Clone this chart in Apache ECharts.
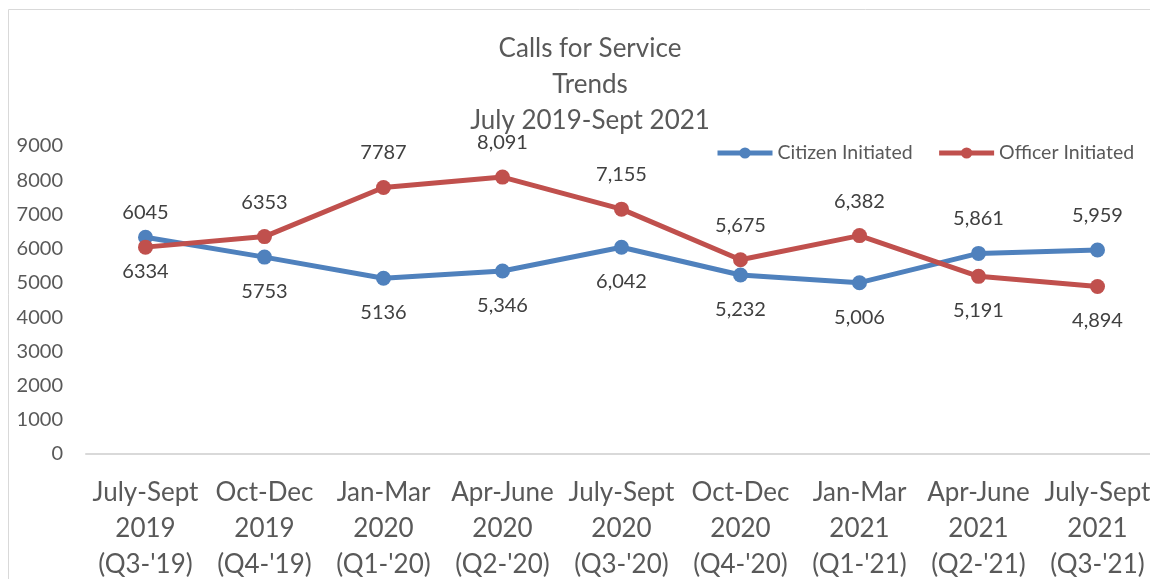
<!DOCTYPE html>
<html>
<head>
<meta charset="utf-8">
<script src="https://cdn.jsdelivr.net/npm/echarts@6/dist/echarts.min.js"></script>
<style>
  html, body { margin: 0; padding: 0; background: #fff; }
  #chart { width: 1150px; height: 579px; }
</style>
</head>
<body>
<div id="chart"></div>
<script>
const quarters = [
  "July-Sept\n2019\n(Q3-'19)", "Oct-Dec\n2019\n(Q4-'19)", "Jan-Mar\n2020\n(Q1-'20)",
  "Apr-June\n2020\n(Q2-'20)", "July-Sept\n2020\n(Q3-'20)", "Oct-Dec\n2020\n(Q4-'20)",
  "Jan-Mar\n2021\n(Q1-'21)", "Apr-June\n2021\n(Q2-'21)", "July-Sept\n2021\n(Q3-'21)"
];
const citizen = [6334, 5753, 5136, 5346, 6042, 5232, 5006, 5861, 5959];
const officer = [6045, 6353, 7787, 8091, 7155, 5675, 6382, 5191, 4894];
// label placement as in the original (Excel put some above, some below)
const citizenLabelPos = ['bottom', 'bottom', 'bottom', 'bottom', 'bottom', 'bottom', 'bottom', 'top', 'top'];
const officerLabelPos = ['top', 'top', 'top', 'top', 'top', 'top', 'top', 'bottom', 'bottom'];
// first three quarters were labelled without thousands separator
const withComma = [false, false, false, true, true, true, true, true, true];

const FONT = 'Lato';
const GREY = '#595959';

const fmt = (v, i) => withComma[i] ? v.toLocaleString('en-US') : String(v);

const toData = (vals, pos) => vals.map((v, i) => ({
  value: v,
  label: { position: pos[i] }
}));

const chart = echarts.init(document.getElementById('chart'));

chart.setOption({
  animation: false,
  textStyle: { fontFamily: FONT },
  graphic: [{
    type: 'rect',
    shape: { x: 8.5, y: 9.5, width: 1300, height: 1000 },
    style: { fill: 'none', stroke: '#d9d9d9', lineWidth: 1 },
    silent: true
  }],
  title: {
    text: 'Calls for Service\nTrends\nJuly 2019-Sept 2021',
    left: 585,
    textAlign: 'center',
    top: 26,
    textStyle: { fontFamily: FONT, fontSize: 26, fontWeight: 'normal', color: GREY, lineHeight: 36 }
  },
  legend: {
    left: 710,
    top: 138,
    itemWidth: 55,
    itemHeight: 14,
    itemGap: 24,
    lineStyle: { width: 5 },
    textStyle: { fontFamily: FONT, fontSize: 19.5, color: GREY }
  },
  grid: {
    left: 86, right: -7, top: 146, bottom: 125,
    outerBoundsMode: 'none'
  },
  xAxis: {
    type: 'category',
    data: quarters,
    axisLine: { lineStyle: { color: '#d9d9d9', width: 2 } },
    axisTick: { show: false },
    axisLabel: {
      interval: 0, margin: 21,
      fontFamily: FONT, fontSize: 26, color: GREY, lineHeight: 36
    }
  },
  yAxis: {
    type: 'value',
    min: 0, max: 9000, interval: 1000,
    splitLine: { show: false },
    axisLine: { show: false },
    axisTick: { show: false },
    axisLabel: {
      margin: 23, fontFamily: FONT, fontSize: 20, color: GREY,
      formatter: v => String(v)
    }
  },
  series: [
    {
      name: 'Citizen Initiated',
      type: 'line',
      data: toData(citizen, citizenLabelPos),
      symbol: 'circle',
      symbolSize: 15,
      color: '#4F81BD',
      lineStyle: { width: 5 },
      label: {
        show: true, distance: 17,
        fontFamily: FONT, fontSize: 20, color: '#404040',
        formatter: p => fmt(p.value, p.dataIndex)
      }
    },
    {
      name: 'Officer Initiated',
      type: 'line',
      data: toData(officer, officerLabelPos),
      symbol: 'circle',
      symbolSize: 15,
      color: '#C0504D',
      lineStyle: { width: 5 },
      label: {
        show: true, distance: 17,
        fontFamily: FONT, fontSize: 20, color: '#404040',
        formatter: p => fmt(p.value, p.dataIndex)
      }
    }
  ]
});
</script>
</body>
</html>
